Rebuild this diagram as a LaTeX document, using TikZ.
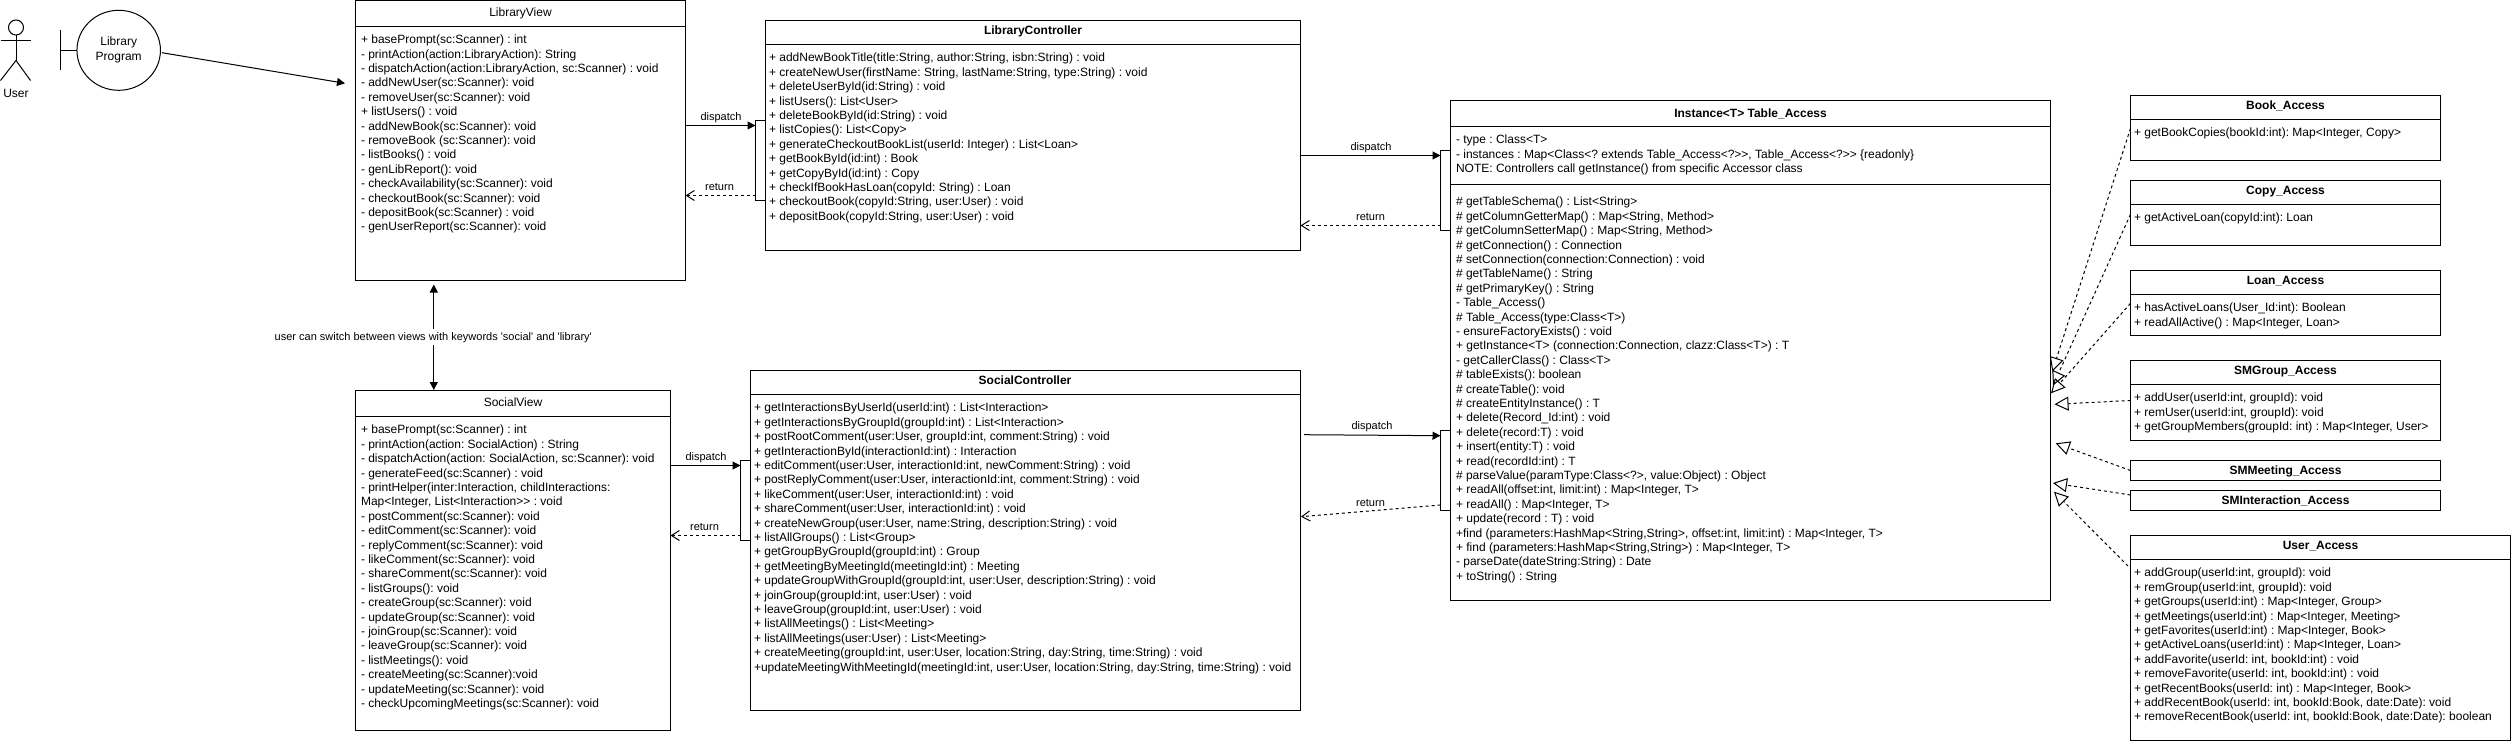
\documentclass[tikz,border=0pt]{standalone}
\usepackage{fontspec}
\usetikzlibrary{arrows.meta,shapes.geometric}
\newfontfamily\umlfont{Liberation Sans}
\frenchspacing
\tikzset{
  umlbox/.style={draw=black,line width=1pt,fill=white,anchor=north west,inner sep=0pt,outer sep=0pt},
  bodytext/.style={anchor=north west,inner sep=0pt,outer sep=0pt,align=left,font=\umlfont\frenchspacing\fontsize{12}{14.4}\selectfont},
  titletext/.style={anchor=base,inner sep=0pt,outer sep=0pt,font=\umlfont\frenchspacing\fontsize{12}{14.4}\selectfont},
  boldtitle/.style={titletext,font=\umlfont\frenchspacing\bfseries\fontsize{12}{14.4}\selectfont},
  edgelabel/.style={anchor=base,inner sep=0pt,outer sep=0pt,font=\umlfont\frenchspacing\fontsize{11}{13}\selectfont},
  line/.style={draw=black,line width=1pt},
  calls/.style={line,-{Triangle[length=8pt,width=8pt]}},
  callsboth/.style={line,{Triangle[length=8pt,width=8pt]}-{Triangle[length=8pt,width=8pt]}},
  returns/.style={line,dash pattern=on 3pt off 3pt,-{Straight Barb[length=8pt,width=10pt,line width=1pt]}},
  implements/.style={line,dash pattern=on 3pt off 3pt,-{Triangle[open,length=14pt,width=14pt,line width=1pt]}},
}
% name, x, y, w, h, header height
\newcommand{\umlclass}[6]{%
  \node[umlbox,minimum width=#4pt,minimum height=#5pt] (#1) at (#2,#3) {};
  \draw[line] (#2,#3+#6) -- (#2+#4,#3+#6);
}
\newcommand{\bodyat}[4]{\node[bodytext] (#1) at (#2-0.5,#3-6.1) {\strut #4};}
\begin{document}
\begin{tikzpicture}[x=1pt,y=-1pt]
\useasboundingbox (0,0) rectangle (2511,742);

% Actor
\draw[line,fill=white] (16,27.5) circle[radius=7.5pt];
\coordinate (neck) at (16,35);
\coordinate (hip) at (16,60.5);
\draw[line] (neck) -- (hip);
\draw[line] (0.5,40.5) -- (30.5,40.5);
\draw[line] (0.5,80.5) -- (hip) -- (30.5,80.5);
\node[edgelabel,font=\umlfont\fontsize{12}{14.4}\selectfont] (userlabel) at (16,97.7) {User};

% Boundary
\node[draw=black,line width=1pt,ellipse,minimum width=83.5pt,minimum height=80pt,inner sep=0pt,outer sep=0pt,align=center,font=\umlfont\fontsize{12}{15}\selectfont] (program) at (118.7,50.3) {Library\\Program};
\coordinate (barmid) at (60.7,50.3);
\draw[line] (60.7,30.3) -- (60.7,70.3);
\draw[line] (barmid) -- (program.west);

% LibraryView
\umlclass{lv}{355.5}{0.5}{330}{280}{26}
\node[titletext] (lvt) at (520.5,16.7) {LibraryView};
\bodyat{lvb}{361.5}{39.7}{+ basePrompt(sc:Scanner) : int\\
- printAction(action:LibraryAction): String\\
- dispatchAction(action:LibraryAction, sc:Scanner) : void\\
- addNewUser(sc:Scanner): void\\
- removeUser(sc:Scanner): void\\
+ listUsers() : void\\
- addNewBook(sc:Scanner): void\\
- removeBook (sc:Scanner): void\\
- listBooks() : void\\
- genLibReport(): void\\
- checkAvailability(sc:Scanner): void\\
- checkoutBook(sc:Scanner): void\\
- depositBook(sc:Scanner) : void\\
- genUserReport(sc:Scanner): void}

% SocialView
\umlclass{sv}{355.5}{390.5}{315}{340}{26}
\node[titletext] (svt) at (513,406.7) {SocialView};
\bodyat{svb}{361.5}{430}{+ basePrompt(sc:Scanner) : int\\
- printAction(action: SocialAction) : String\\
- dispatchAction(action: SocialAction, sc:Scanner): void\\
- generateFeed(sc:Scanner) : void\\
- printHelper(inter:Interaction, childInteractions:\\
Map<Integer, List<Interaction>> : void\\
- postComment(sc:Scanner): void\\
- editComment(sc:Scanner): void\\
- replyComment(sc:Scanner): void\\
- likeComment(sc:Scanner): void\\
- shareComment(sc:Scanner): void\\
- listGroups(): void\\
- createGroup(sc:Scanner): void\\
- updateGroup(sc:Scanner): void\\
- joinGroup(sc:Scanner): void\\
- leaveGroup(sc:Scanner): void\\
- listMeetings(): void\\
- createMeeting(sc:Scanner):void\\
- updateMeeting(sc:Scanner): void\\
- checkUpcomingMeetings(sc:Scanner): void}

% LibraryController
\umlclass{lc}{765.5}{20.5}{535}{230}{24}
\node[boldtitle] (lct) at (1033,34.7) {LibraryController};
\bodyat{lcb}{769.5}{58}{+ addNewBookTitle(title:String, author:String, isbn:String) : void\\
+ createNewUser(firstName: String, lastName:String, type:String) : void\\
+ deleteUserById(id:String) : void\\
+ listUsers(): List<User>\\
+ deleteBookById(id:String) : void\\
+ listCopies(): List<Copy>\\
+ generateCheckoutBookList(userId: Integer) : List<Loan>\\
+ getBookById(id:int) : Book\\
+ getCopyById(id:int) : Copy\\
+ checkIfBookHasLoan(copyId: String) : Loan\\
+ checkoutBook(copyId:String, user:User) : void\\
+ depositBook(copyId:String, user:User) : void}

% SocialController
\umlclass{sc}{750.5}{370.5}{550}{340}{24}
\node[boldtitle] (sct) at (1025,384.7) {SocialController};
\bodyat{scb}{754.5}{408}{+ getInteractionsByUserId(userId:int) : List<Interaction>\\
+ getInteractionsByGroupId(groupId:int) : List<Interaction>\\
+ postRootComment(user:User, groupId:int, comment:String) : void\\
+ getInteractionById(interactionId:int) : Interaction\\
+ editComment(user:User, interactionId:int, newComment:String) : void\\
+ postReplyComment(user:User, interactionId:int, comment:String) : void\\
+ likeComment(user:User, interactionId:int) : void\\
+ shareComment(user:User, interactionId:int) : void\\
+ createNewGroup(user:User, name:String, description:String) : void\\
+ listAllGroups() : List<Group>\\
+ getGroupByGroupId(groupId:int) : Group\\
+ getMeetingByMeetingId(meetingId:int) : Meeting\\
+ updateGroupWithGroupId(groupId:int, user:User, description:String) : void\\
+ joinGroup(groupId:int, user:User) : void\\
+ leaveGroup(groupId:int, user:User) : void\\
+ listAllMeetings() : List<Meeting>\\
+ listAllMeetings(user:User) : List<Meeting>\\
+ createMeeting(groupId:int, user:User, location:String, day:String, time:String) : void\\
+updateMeetingWithMeetingId(meetingId:int, user:User, location:String, day:String, time:String) : void}

% Table_Access
\umlclass{ta}{1450.5}{100.5}{600}{500}{26}
\draw[line] (1450.5,184.5) -- (2050.5,184.5);
\node[boldtitle] (tat) at (1750.5,117.7) {Instance<T> Table\_Access};
\bodyat{taf}{1456.5}{140}{- type : Class<T>\\
- instances : Map<Class<? extends Table\_Access<?>>, Table\_Access<?>> \{readonly\}\\
NOTE: Controllers call getInstance() from specific Accessor class}
\bodyat{tam}{1456.5}{202}{\# getTableSchema() : List<String>\\
\# getColumnGetterMap() : Map<String, Method>\\
\# getColumnSetterMap() : Map<String, Method>\\
\# getConnection() : Connection\\
\# setConnection(connection:Connection) : void\\
\# getTableName() : String\\
\# getPrimaryKey() : String\\
- Table\_Access()\\
\# Table\_Access(type:Class<T>)\\
- ensureFactoryExists() : void\\
+ getInstance<T> (connection:Connection, clazz:Class<T>) : T\\
- getCallerClass() : Class<T>\\
\# tableExists(): boolean\\
\# createTable(): void\\
\# createEntityInstance() : T\\
+ delete(Record\_Id:int) : void\\
+ delete(record:T) : void\\
+ insert(entity:T) : void\\
+ read(recordId:int) : T\\
\# parseValue(paramType:Class<?>, value:Object) : Object\\
+ readAll(offset:int, limit:int) : Map<Integer, T>\\
+ readAll() : Map<Integer, T>\\
+ update(record : T) : void\\
+find (parameters:HashMap<String,String>, offset:int, limit:int) : Map<Integer, T>\\
+ find (parameters:HashMap<String,String>) : Map<Integer, T>\\
- parseDate(dateString:String) : Date\\
+ toString() : String}

% Access classes
\umlclass{ba}{2130.5}{95.5}{310}{65}{24}
\node[boldtitle] (bat) at (2285.5,109.7) {Book\_Access};
\bodyat{bab}{2134.5}{133}{+ getBookCopies(bookId:int): Map<Integer, Copy>}

\umlclass{ca}{2130.5}{180.5}{310}{65}{24}
\node[boldtitle] (cat) at (2285.5,194.7) {Copy\_Access};
\bodyat{cab}{2134.5}{217.7}{+ getActiveLoan(copyId:int): Loan}

\umlclass{la}{2130.5}{270.5}{310}{65}{24}
\node[boldtitle] (lat) at (2285.5,284.7) {Loan\_Access};
\bodyat{lab}{2134.5}{307.7}{+ hasActiveLoans(User\_Id:int): Boolean\\
+ readAllActive() : Map<Integer, Loan>}

\umlclass{ga}{2130.5}{360.5}{310}{80}{24}
\node[boldtitle] (gat) at (2285.5,374.7) {SMGroup\_Access};
\bodyat{gab}{2134.5}{397.7}{+ addUser(userId:int, groupId): void\\
+ remUser(userId:int, groupId): void\\
+ getGroupMembers(groupId: int) : Map<Integer, User>}

\node[umlbox,minimum width=310pt,minimum height=20pt] (ma) at (2130.5,460.5) {};
\node[boldtitle] (mat) at (2285.5,474.7) {SMMeeting\_Access};
\node[umlbox,minimum width=310pt,minimum height=20pt] (ia) at (2130.5,490.5) {};
\node[boldtitle] (iat) at (2285.5,504.7) {SMInteraction\_Access};

\umlclass{ua}{2130.5}{535.5}{380}{205}{24}
\node[boldtitle] (uat) at (2320.5,549.7) {User\_Access};
\bodyat{uab}{2134.5}{573}{+ addGroup(userId:int, groupId): void\\
+ remGroup(userId:int, groupId): void\\
+ getGroups(userId:int) : Map<Integer, Group>\\
+ getMeetings(userId:int) : Map<Integer, Meeting>\\
+ getFavorites(userId:int) : Map<Integer, Book>\\
+ getActiveLoans(userId:int) : Map<Integer, Loan>\\
+ addFavorite(userId: int, bookId:int) : void\\
+ removeFavorite(userId: int, bookId:int) : void\\
+ getRecentBooks(userId: int) : Map<Integer, Book>\\
+ addRecentBook(userId: int, bookId:Book, date:Date): void\\
+ removeRecentBook(userId: int, bookId:Book, date:Date): boolean}

% Brackets (activation marks)
\coordinate (b1t) at (755.5,120.5); \coordinate (b1b) at (755.5,200.5);
\coordinate (b2t) at (1440.5,150.5); \coordinate (b2b) at (1440.5,230.5);
\coordinate (b3t) at (740.5,460.5); \coordinate (b3b) at (740.5,540.5);
\coordinate (b4t) at (1440.5,430.5); \coordinate (b4b) at (1440.5,510.5);
\draw[line] (lc.west |- b1t) -- (b1t) -- (b1b) -- (lc.west |- b1b);
\draw[line] (ta.west |- b2t) -- (b2t) -- (b2b) -- (ta.west |- b2b);
\draw[line] (sc.west |- b3t) -- (b3t) -- (b3b) -- (sc.west |- b3b);
\draw[line] (ta.west |- b4t) -- (b4t) -- (b4b) -- (ta.west |- b4b);

% Program to view
\coordinate (lvin) at (345,83.3);
\coordinate (progout) at (162,52.7);
\draw[calls] (progout) -- (lvin);

% View switch
\coordinate (swtop) at (433.8,284.5);
\coordinate (swbot) at (433.8,390);
\draw[callsboth] (swtop) -- (swbot);
\node[edgelabel,fill=white,inner ysep=3pt] (swl) at (433.3,340) {user can switch between views with keywords 'social' and 'library'};

% Dispatch / return
\coordinate (d1) at (755.5,125.5);
\coordinate (r1) at (755.5,195.5);
\draw[calls] (lv.east |- d1) -- (d1);
\draw[returns] (r1) -- (lv.east |- r1);
\node[edgelabel] (d1l) at (721,120) {dispatch};
\node[edgelabel] (r1l) at (719.5,190) {return};

\coordinate (d2) at (1440.5,155.5);
\coordinate (r2) at (1440.5,225.5);
\draw[calls] (lc.east |- d2) -- (d2);
\draw[returns] (r2) -- (lc.east |- r2);
\node[edgelabel] (d2l) at (1371,150) {dispatch};
\node[edgelabel] (r2l) at (1370.5,220) {return};

\coordinate (d3) at (740.5,465.5);
\coordinate (r3) at (740.5,535.5);
\draw[calls] (sv.east |- d3) -- (d3);
\draw[returns] (r3) -- (sv.east |- r3);
\node[edgelabel] (d3l) at (706,460) {dispatch};
\node[edgelabel] (r3l) at (704.5,530) {return};

\coordinate (d4s) at (1304,434.7);
\coordinate (d4) at (1440.5,435.7);
\coordinate (r4) at (1440.5,505);
\coordinate (r4e) at (1301,516.7);
\draw[calls] (d4s) -- (d4);
\draw[returns] (r4) -- (r4e);
\node[edgelabel] (d4l) at (1372,429) {dispatch};
\node[edgelabel] (r4l) at (1370.5,506) {return};

% Implementation arrows
\coordinate (baout) at (2130.5,128.3);
\coordinate (caout) at (2130.5,214.3);
\coordinate (laout) at (2130.5,303.3);
\coordinate (gaout) at (2130.5,400.5);
\coordinate (maout) at (2130.5,470.5);
\coordinate (iaout) at (2130.5,495);
\coordinate (uaout) at (2128,566);
\coordinate (t1) at (2052.3,371.5);
\coordinate (t2) at (2053,385.5);
\coordinate (t3) at (2051,393.3);
\coordinate (t4) at (2054.5,404.3);
\coordinate (t5) at (2055.7,443.3);
\coordinate (t6) at (2053,483);
\coordinate (t7) at (2054,491.7);
\draw[implements] (baout) -- (t1);
\draw[implements] (caout) -- (t2);
\draw[implements] (laout) -- (t3);
\draw[implements] (gaout) -- (t4);
\draw[implements] (maout) -- (t5);
\draw[implements] (iaout) -- (t6);
\draw[implements] (uaout) -- (t7);
\end{tikzpicture}
\end{document}
